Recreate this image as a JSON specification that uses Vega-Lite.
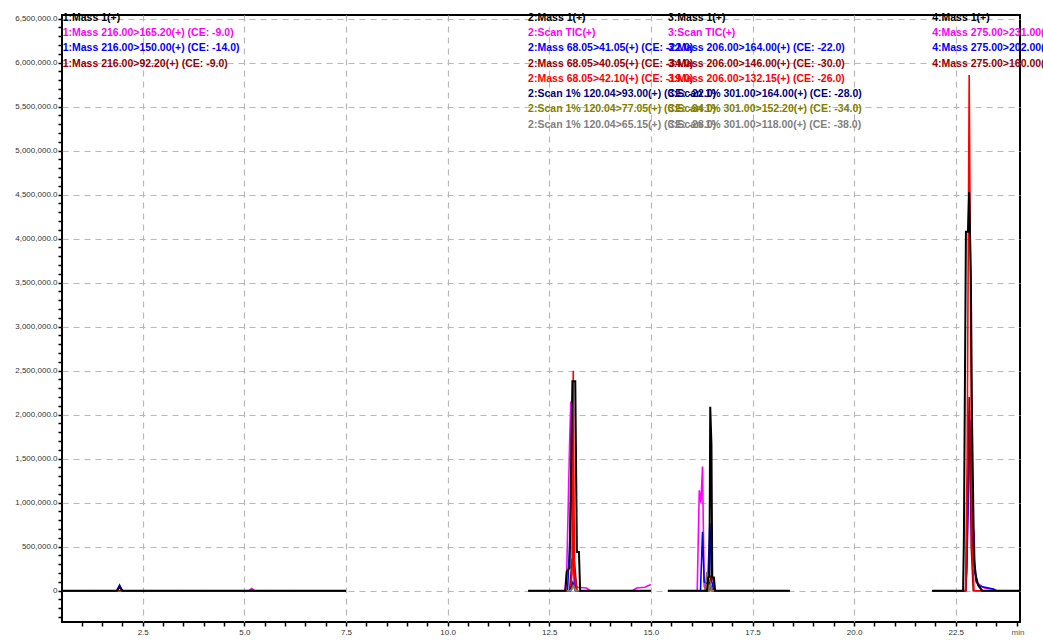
{
  "$schema": "https://vega.github.io/schema/vega-lite/v6.json",
  "width": 958,
  "height": 607,
  "autosize": "none",
  "padding": {"left": 62, "top": 15, "right": 23, "bottom": 20},
  "background": "white",
  "config": {
    "font": "Liberation Sans",
    "view": {"stroke": "#000000", "strokeWidth": 2}
  },
  "datasets": {
    "traces": [
      {"ch":"c0","seg":1,"t":0.514,"v":0},{"ch":"c0","seg":1,"t":1.86,"v":0},{"ch":"c0","seg":1,"t":1.93,"v":40000},{"ch":"c0","seg":1,"t":2.0,"v":0},{"ch":"c0","seg":1,"t":7.5,"v":0},
      {"ch":"c1","seg":1,"t":0.514,"v":0},{"ch":"c1","seg":1,"t":5.11,"v":0},{"ch":"c1","seg":1,"t":5.18,"v":25000},{"ch":"c1","seg":1,"t":5.25,"v":0},{"ch":"c1","seg":1,"t":7.5,"v":0},
      {"ch":"c2","seg":1,"t":0.514,"v":0},{"ch":"c2","seg":1,"t":1.86,"v":0},{"ch":"c2","seg":1,"t":1.93,"v":65000},{"ch":"c2","seg":1,"t":2.0,"v":0},{"ch":"c2","seg":1,"t":7.5,"v":0},
      {"ch":"c3","seg":1,"t":0.514,"v":0},{"ch":"c3","seg":1,"t":7.5,"v":0},

      {"ch":"c0","seg":2,"t":11.98,"v":0},{"ch":"c0","seg":2,"t":12.9,"v":0},{"ch":"c0","seg":2,"t":12.93,"v":220000},{"ch":"c0","seg":2,"t":13.0,"v":260000},{"ch":"c0","seg":2,"t":13.07,"v":2380000},{"ch":"c0","seg":2,"t":13.14,"v":2380000},{"ch":"c0","seg":2,"t":13.18,"v":440000},{"ch":"c0","seg":2,"t":13.23,"v":440000},{"ch":"c0","seg":2,"t":13.26,"v":0},{"ch":"c0","seg":2,"t":15.0,"v":0},
      {"ch":"c1","seg":2,"t":11.98,"v":0},{"ch":"c1","seg":2,"t":12.88,"v":0},{"ch":"c1","seg":2,"t":12.93,"v":215000},{"ch":"c1","seg":2,"t":13.0,"v":1660000},{"ch":"c1","seg":2,"t":13.03,"v":2150000},{"ch":"c1","seg":2,"t":13.08,"v":300000},{"ch":"c1","seg":2,"t":13.12,"v":60000},{"ch":"c1","seg":2,"t":13.21,"v":40000},{"ch":"c1","seg":2,"t":13.42,"v":30000},{"ch":"c1","seg":2,"t":13.5,"v":0},{"ch":"c1","seg":2,"t":14.55,"v":0},{"ch":"c1","seg":2,"t":14.65,"v":30000},{"ch":"c1","seg":2,"t":14.85,"v":40000},{"ch":"c1","seg":2,"t":15.0,"v":70000},
      {"ch":"c2","seg":2,"t":11.98,"v":0},{"ch":"c2","seg":2,"t":12.95,"v":0},{"ch":"c2","seg":2,"t":13.0,"v":500000},{"ch":"c2","seg":2,"t":13.06,"v":1550000},{"ch":"c2","seg":2,"t":13.1,"v":300000},{"ch":"c2","seg":2,"t":13.16,"v":0},{"ch":"c2","seg":2,"t":15.0,"v":0},
      {"ch":"c3","seg":2,"t":11.98,"v":0},{"ch":"c3","seg":2,"t":13.0,"v":0},{"ch":"c3","seg":2,"t":13.06,"v":350000},{"ch":"c3","seg":2,"t":13.12,"v":330000},{"ch":"c3","seg":2,"t":13.18,"v":0},{"ch":"c3","seg":2,"t":15.0,"v":0},
      {"ch":"c4","seg":2,"t":11.98,"v":0},{"ch":"c4","seg":2,"t":13.02,"v":0},{"ch":"c4","seg":2,"t":13.06,"v":200000},{"ch":"c4","seg":2,"t":13.09,"v":2500000},{"ch":"c4","seg":2,"t":13.12,"v":200000},{"ch":"c4","seg":2,"t":13.18,"v":0},{"ch":"c4","seg":2,"t":15.0,"v":0},
      {"ch":"c5","seg":2,"t":11.98,"v":0},{"ch":"c5","seg":2,"t":13.02,"v":0},{"ch":"c5","seg":2,"t":13.08,"v":90000},{"ch":"c5","seg":2,"t":13.14,"v":0},{"ch":"c5","seg":2,"t":15.0,"v":0},
      {"ch":"c6","seg":2,"t":11.98,"v":0},{"ch":"c6","seg":2,"t":13.03,"v":0},{"ch":"c6","seg":2,"t":13.09,"v":60000},{"ch":"c6","seg":2,"t":13.15,"v":0},{"ch":"c6","seg":2,"t":15.0,"v":0},
      {"ch":"c7","seg":2,"t":11.98,"v":0},{"ch":"c7","seg":2,"t":13.03,"v":0},{"ch":"c7","seg":2,"t":13.1,"v":50000},{"ch":"c7","seg":2,"t":13.16,"v":0},{"ch":"c7","seg":2,"t":15.0,"v":0},

      {"ch":"c0","seg":3,"t":15.42,"v":0},{"ch":"c0","seg":3,"t":16.38,"v":0},{"ch":"c0","seg":3,"t":16.41,"v":150000},{"ch":"c0","seg":3,"t":16.44,"v":160000},{"ch":"c0","seg":3,"t":16.46,"v":2090000},{"ch":"c0","seg":3,"t":16.49,"v":1660000},{"ch":"c0","seg":3,"t":16.51,"v":150000},{"ch":"c0","seg":3,"t":16.55,"v":150000},{"ch":"c0","seg":3,"t":16.58,"v":0},{"ch":"c0","seg":3,"t":18.42,"v":0},
      {"ch":"c1","seg":3,"t":15.42,"v":0},{"ch":"c1","seg":3,"t":16.14,"v":0},{"ch":"c1","seg":3,"t":16.19,"v":1140000},{"ch":"c1","seg":3,"t":16.23,"v":1000000},{"ch":"c1","seg":3,"t":16.27,"v":1410000},{"ch":"c1","seg":3,"t":16.31,"v":50000},{"ch":"c1","seg":3,"t":16.36,"v":0},{"ch":"c1","seg":3,"t":16.44,"v":0},{"ch":"c1","seg":3,"t":16.48,"v":40000},{"ch":"c1","seg":3,"t":16.55,"v":0},{"ch":"c1","seg":3,"t":18.42,"v":0},
      {"ch":"c2","seg":3,"t":15.42,"v":0},{"ch":"c2","seg":3,"t":16.22,"v":0},{"ch":"c2","seg":3,"t":16.27,"v":670000},{"ch":"c2","seg":3,"t":16.31,"v":100000},{"ch":"c2","seg":3,"t":16.4,"v":80000},{"ch":"c2","seg":3,"t":16.45,"v":765000},{"ch":"c2","seg":3,"t":16.5,"v":100000},{"ch":"c2","seg":3,"t":16.55,"v":0},{"ch":"c2","seg":3,"t":18.42,"v":0},
      {"ch":"c3","seg":3,"t":15.42,"v":0},{"ch":"c3","seg":3,"t":16.42,"v":0},{"ch":"c3","seg":3,"t":16.47,"v":160000},{"ch":"c3","seg":3,"t":16.53,"v":140000},{"ch":"c3","seg":3,"t":16.57,"v":0},{"ch":"c3","seg":3,"t":18.42,"v":0},
      {"ch":"c4","seg":3,"t":15.42,"v":0},{"ch":"c4","seg":3,"t":16.42,"v":0},{"ch":"c4","seg":3,"t":16.47,"v":50000},{"ch":"c4","seg":3,"t":16.52,"v":0},{"ch":"c4","seg":3,"t":18.42,"v":0},
      {"ch":"c5","seg":3,"t":15.42,"v":0},{"ch":"c5","seg":3,"t":16.4,"v":0},{"ch":"c5","seg":3,"t":16.45,"v":90000},{"ch":"c5","seg":3,"t":16.5,"v":0},{"ch":"c5","seg":3,"t":18.42,"v":0},
      {"ch":"c6","seg":3,"t":15.42,"v":0},{"ch":"c6","seg":3,"t":16.33,"v":0},{"ch":"c6","seg":3,"t":16.38,"v":215000},{"ch":"c6","seg":3,"t":16.43,"v":0},{"ch":"c6","seg":3,"t":18.42,"v":0},
      {"ch":"c7","seg":3,"t":15.42,"v":0},{"ch":"c7","seg":3,"t":16.4,"v":0},{"ch":"c7","seg":3,"t":16.46,"v":70000},{"ch":"c7","seg":3,"t":16.5,"v":0},{"ch":"c7","seg":3,"t":18.42,"v":0},

      {"ch":"c0","seg":4,"t":21.92,"v":0},{"ch":"c0","seg":4,"t":22.68,"v":0},{"ch":"c0","seg":4,"t":22.7,"v":600000},{"ch":"c0","seg":4,"t":22.75,"v":4080000},{"ch":"c0","seg":4,"t":22.8,"v":4080000},{"ch":"c0","seg":4,"t":22.83,"v":4530000},{"ch":"c0","seg":4,"t":22.87,"v":3610000},{"ch":"c0","seg":4,"t":22.9,"v":1940000},{"ch":"c0","seg":4,"t":22.95,"v":350000},{"ch":"c0","seg":4,"t":23.0,"v":150000},{"ch":"c0","seg":4,"t":23.05,"v":60000},{"ch":"c0","seg":4,"t":23.15,"v":0},{"ch":"c0","seg":4,"t":24.08,"v":0},
      {"ch":"c1","seg":4,"t":21.92,"v":0},{"ch":"c1","seg":4,"t":22.74,"v":0},{"ch":"c1","seg":4,"t":22.77,"v":200000},{"ch":"c1","seg":4,"t":22.84,"v":2050000},{"ch":"c1","seg":4,"t":22.9,"v":800000},{"ch":"c1","seg":4,"t":22.95,"v":650000},{"ch":"c1","seg":4,"t":22.98,"v":200000},{"ch":"c1","seg":4,"t":23.05,"v":80000},{"ch":"c1","seg":4,"t":23.2,"v":30000},{"ch":"c1","seg":4,"t":23.42,"v":20000},{"ch":"c1","seg":4,"t":23.5,"v":0},{"ch":"c1","seg":4,"t":24.08,"v":0},
      {"ch":"c2","seg":4,"t":21.92,"v":0},{"ch":"c2","seg":4,"t":22.74,"v":0},{"ch":"c2","seg":4,"t":22.77,"v":250000},{"ch":"c2","seg":4,"t":22.85,"v":1940000},{"ch":"c2","seg":4,"t":22.9,"v":600000},{"ch":"c2","seg":4,"t":22.95,"v":300000},{"ch":"c2","seg":4,"t":23.0,"v":100000},{"ch":"c2","seg":4,"t":23.1,"v":50000},{"ch":"c2","seg":4,"t":23.42,"v":20000},{"ch":"c2","seg":4,"t":23.5,"v":0},{"ch":"c2","seg":4,"t":24.08,"v":0},
      {"ch":"c3","seg":4,"t":21.92,"v":0},{"ch":"c3","seg":4,"t":22.75,"v":0},{"ch":"c3","seg":4,"t":22.83,"v":2200000},{"ch":"c3","seg":4,"t":22.88,"v":500000},{"ch":"c3","seg":4,"t":22.93,"v":0},{"ch":"c3","seg":4,"t":24.08,"v":0},
      {"ch":"c4","seg":4,"t":21.92,"v":0},{"ch":"c4","seg":4,"t":22.74,"v":0},{"ch":"c4","seg":4,"t":22.78,"v":1500000},{"ch":"c4","seg":4,"t":22.83,"v":5860000},{"ch":"c4","seg":4,"t":22.87,"v":3000000},{"ch":"c4","seg":4,"t":22.9,"v":500000},{"ch":"c4","seg":4,"t":22.95,"v":0},{"ch":"c4","seg":4,"t":24.08,"v":0}
    ],
    "labels": [
      {"ch":"c0","t":0.53,"v":6505000,"txt":"1:Mass 1(+)"},
      {"ch":"c1","t":0.53,"v":6335000,"txt":"1:Mass 216.00>165.20(+) (CE: -9.0)"},
      {"ch":"c2","t":0.53,"v":6165000,"txt":"1:Mass 216.00>150.00(+) (CE: -14.0)"},
      {"ch":"c3","t":0.53,"v":5990000,"txt":"1:Mass 216.00>92.20(+) (CE: -9.0)"},

      {"ch":"c0","t":11.98,"v":6505000,"txt":"2:Mass 1(+)"},
      {"ch":"c1","t":11.98,"v":6335000,"txt":"2:Scan TIC(+)"},
      {"ch":"c2","t":11.98,"v":6165000,"txt":"2:Mass 68.05>41.05(+) (CE: -22.0)"},
      {"ch":"c3","t":11.98,"v":5990000,"txt":"2:Mass 68.05>40.05(+) (CE: -34.0)"},
      {"ch":"c4","t":11.98,"v":5815000,"txt":"2:Mass 68.05>42.10(+) (CE: -19.0)"},
      {"ch":"c5","t":11.98,"v":5645000,"txt":"2:Scan 1% 120.04>93.00(+) (CE: -22.0)"},
      {"ch":"c6","t":11.98,"v":5470000,"txt":"2:Scan 1% 120.04>77.05(+) (CE: -34.0)"},
      {"ch":"c7","t":11.98,"v":5295000,"txt":"2:Scan 1% 120.04>65.15(+) (CE: -28.0)"},

      {"ch":"c0","t":15.42,"v":6505000,"txt":"3:Mass 1(+)"},
      {"ch":"c1","t":15.42,"v":6335000,"txt":"3:Scan TIC(+)"},
      {"ch":"c2","t":15.42,"v":6165000,"txt":"3:Mass 206.00>164.00(+) (CE: -22.0)"},
      {"ch":"c3","t":15.42,"v":5990000,"txt":"3:Mass 206.00>146.00(+) (CE: -30.0)"},
      {"ch":"c4","t":15.42,"v":5815000,"txt":"3:Mass 206.00>132.15(+) (CE: -26.0)"},
      {"ch":"c5","t":15.42,"v":5645000,"txt":"3:Scan 1% 301.00>164.00(+) (CE: -28.0)"},
      {"ch":"c6","t":15.42,"v":5470000,"txt":"3:Scan 1% 301.00>152.20(+) (CE: -34.0)"},
      {"ch":"c7","t":15.42,"v":5295000,"txt":"3:Scan 1% 301.00>118.00(+) (CE: -38.0)"},

      {"ch":"c0","t":21.92,"v":6505000,"txt":"4:Mass 1(+)"},
      {"ch":"c1","t":21.92,"v":6335000,"txt":"4:Mass 275.00>231.00(+) (CE: -16.0)"},
      {"ch":"c2","t":21.92,"v":6165000,"txt":"4:Mass 275.00>202.00(+) (CE: -22.0)"},
      {"ch":"c3","t":21.92,"v":5990000,"txt":"4:Mass 275.00>160.00(+) (CE: -28.0)"}
    ]
  },
  "encoding": {
    "x": {
      "field": "t",
      "type": "quantitative",
      "scale": {"domain": [0.514, 24.08], "nice": false, "zero": false},
      "axis": {
        "title": "min",
        "titleAlign": "right",
        "titleAnchor": "end",
        "titleX": 962,
        "titleY": 6,
        "titleBaseline": "top",
        "titleFontSize": 8,
        "titleFontWeight": "normal",
        "titleColor": "#555555",
        "values": [1,1.5,2,2.5,3,3.5,4,4.5,5,5.5,6,6.5,7,7.5,8,8.5,9,9.5,10,10.5,11,11.5,12,12.5,13,13.5,14,14.5,15,15.5,16,16.5,17,17.5,18,18.5,19,19.5,20,20.5,21,21.5,22,22.5,23,23.5,24],
        "labelExpr": "abs(datum.value/2.5 - round(datum.value/2.5)) < 0.001 ? format(datum.value, '.1f') : ''",
        "labelOverlap": false,
        "labelFlush": false,
        "labelFontSize": 8,
        "labelColor": "#333333",
        "labelPadding": 2,
        "tickSize": 4,
        "tickColor": "#000000",
        "tickWidth": 1.5,
        "domain": false,
        "grid": true,
        "gridColor": "#b8b8b8",
        "gridDash": [6, 5],
        "gridWidth": 1.2,
        "gridOpacity": {"condition": {"test": "abs(datum.value/2.5 - round(datum.value/2.5)) < 0.001", "value": 1}, "value": 0}
      }
    },
    "y": {
      "field": "v",
      "type": "quantitative",
      "scale": {"domain": [-355700, 6542000], "nice": false, "zero": false},
      "axis": {
        "title": null,
        "values": [-300000,-200000,-100000,0,100000,200000,300000,400000,500000,600000,700000,800000,900000,1000000,1100000,1200000,1300000,1400000,1500000,1600000,1700000,1800000,1900000,2000000,2100000,2200000,2300000,2400000,2500000,2600000,2700000,2800000,2900000,3000000,3100000,3200000,3300000,3400000,3500000,3600000,3700000,3800000,3900000,4000000,4100000,4200000,4300000,4400000,4500000,4600000,4700000,4800000,4900000,5000000,5100000,5200000,5300000,5400000,5500000,5600000,5700000,5800000,5900000,6000000,6100000,6200000,6300000,6400000,6500000],
        "labelExpr": "datum.value % 500000 === 0 ? (datum.value === 0 ? '0' : format(datum.value, ',.1f')) : ''",
        "labelOverlap": false,
        "labelFlush": false,
        "labelFontSize": 8,
        "labelColor": "#333333",
        "labelPadding": 1,
        "tickSize": 4,
        "tickColor": "#000000",
        "tickWidth": 1.5,
        "domain": false,
        "grid": true,
        "gridColor": "#b8b8b8",
        "gridDash": [6, 5],
        "gridWidth": 1.2,
        "gridOpacity": {"condition": {"test": "datum.value % 500000 === 0", "value": 1}, "value": 0}
      }
    },
    "color": {
      "field": "ch",
      "type": "nominal",
      "scale": {
        "domain": ["c0","c1","c2","c3","c4","c5","c6","c7"],
        "range": ["#000000","#ff00ff","#0000ff","#990000","#ff0000","#000080","#808000","#808080"]
      },
      "legend": null
    }
  },
  "layer": [
    {
      "data": {"name": "traces"},
      "transform": [{"filter": "datum.ch !== 'c0'"}],
      "mark": {"type": "line", "strokeWidth": 1.6, "interpolate": "linear"},
      "encoding": {"detail": {"field": "seg", "type": "nominal"}, "order": {"field": "t", "type": "quantitative"}}
    },
    {
      "data": {"name": "traces"},
      "transform": [{"filter": "datum.ch === 'c0'"}],
      "mark": {"type": "line", "strokeWidth": 2, "interpolate": "linear"},
      "encoding": {"detail": {"field": "seg", "type": "nominal"}, "order": {"field": "t", "type": "quantitative"}}
    },
    {
      "data": {"name": "labels"},
      "mark": {"type": "text", "align": "left", "baseline": "middle", "fontSize": 10.5, "fontWeight": "bold", "font": "Liberation Sans"},
      "encoding": {"text": {"field": "txt", "type": "nominal"}}
    }
  ]
}
